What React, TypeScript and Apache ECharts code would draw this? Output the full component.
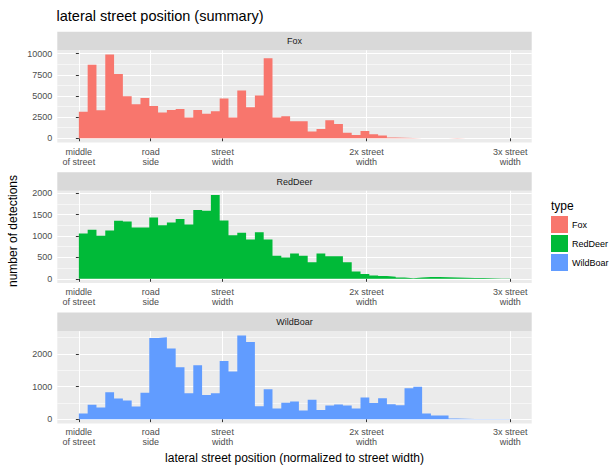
import React, { useEffect, useRef } from "react";
import * as echarts from "echarts";

// Facets / fill groups
const species = ["Fox", "RedDeer", "WildBoar"];
const speciesColors = ["#F8766D", "#00BA38", "#619CFF"];

// Detection counts per histogram bin (49 equal bins from 0 to 3 street widths)
const foxCounts = [
  3150, 8700, 3300, 9900, 7600, 4980, 4030, 4750, 3830, 3050,
  3350, 3450, 2450, 3350, 2900, 3200, 4700, 2450, 5650, 3680,
  5060, 9450, 2450, 2600, 2020, 2020, 790, 1100, 2130, 1700,
  670, 400, 870, 470, 320, 100, 70, 30, 20, 15,
  10, 10, 30, 10, 0, 0, 0, 0, 0,
];
const redDeerCounts = [
  1060, 1150, 1005, 1130, 1360, 1340, 1200, 1200, 1435, 1255,
  1315, 1400, 1270, 1610, 1590, 1960, 1365, 1020, 1075, 920,
  1090, 920, 540, 500, 590, 540, 390, 590, 525, 525,
  390, 170, 110, 80, 63, 47, 30, 15, 30, 45,
  40, 35, 30, 25, 20, 20, 15, 10, 5,
];
const wildBoarCounts = [
  175, 440, 360, 830, 635, 570, 390, 815, 2490, 2510,
  2165, 1590, 795, 1655, 745, 795, 1785, 1460, 2570, 2365,
  400, 920, 330, 505, 540, 265, 600, 285, 420, 450,
  420, 330, 665, 500, 645, 460, 430, 950, 995, 178,
  110, 110, 20, 15, 10, 10, 10, 10, 5,
];
const allCounts = [foxCounts, redDeerCounts, wildBoarCounts];

// Histogram range (in street widths)
const histStart = 0;
const histEnd = 3;

// Axis breaks
const xTickValues = [0, 0.5, 1, 2, 3];
const xTickLabels = [
  "middle\nof street",
  "road\nside",
  "street\nwidth",
  "2x street\nwidth",
  "3x street\nwidth",
];
const foxYTicks = [0, 2500, 5000, 7500, 10000];
const redDeerYTicks = [0, 500, 1000, 1500, 2000];
const wildBoarYTicks = [0, 1000, 2000];
const allYTicks = [foxYTicks, redDeerYTicks, wildBoarYTicks];

const FONT = "'Liberation Sans', Arial, Helvetica, sans-serif";

// ggplot-style 5% expansion of a [lo, hi] range
function expand(lo: number, hi: number): [number, number] {
  const pad = (hi - lo) * 0.05;
  return [lo - pad, hi + pad];
}

// minor breaks halfway between major breaks, kept inside the limits
function minorBreaks(major: number[], lo: number, hi: number): number[] {
  const step = major[1] - major[0];
  const out: number[] = [];
  const first = major[0] - step / 2;
  if (first >= lo) out.push(first);
  for (let i = 0; i < major.length; i++) {
    const v = major[i] + step / 2;
    if (v <= hi) out.push(v);
  }
  return out;
}

export default function App() {
  const ref = useRef<HTMLDivElement>(null);

  useEffect(() => {
    if (!ref.current) return;
    const chart = echarts.init(ref.current, undefined, { renderer: "svg" });

    // panel geometry
    const panelLeft = 57.3;
    const panelWidth = 474.4;
    const panelHeight = 92.2;
    const panelTops = [50.3, 190.8, 331.2];
    const stripHeight = 18.6;
    const panelCenterX = panelLeft + panelWidth / 2;

    const nBins = foxCounts.length;
    const binWidth = (histEnd - histStart) / nBins;
    const [xMin, xMax] = expand(histStart, histEnd);

    const grids: any[] = [];
    const xAxes: any[] = [];
    const yAxes: any[] = [];
    const series: any[] = [];
    const graphics: any[] = [];

    species.forEach((name, i) => {
      const counts = allCounts[i];
      const [yMin, yMax] = expand(0, Math.max(...counts));
      const majors = allYTicks[i];
      const minors = minorBreaks(majors, yMin, yMax);

      grids.push({
        left: panelLeft,
        top: panelTops[i],
        width: panelWidth,
        height: panelHeight,
        show: true,
        backgroundColor: "#EBEBEB",
        borderWidth: 0,
        containLabel: false,
      });

      xAxes.push({
        type: "value",
        gridIndex: i,
        min: xMin,
        max: xMax,
        axisLine: { show: false },
        axisTick: {
          show: true,
          length: 3,
          customValues: xTickValues,
          lineStyle: { color: "#333333", width: 1 },
        },
        axisLabel: {
          show: true,
          customValues: xTickValues,
          formatter: (v: number) => {
            const k = xTickValues.findIndex((t) => Math.abs(t - v) < 1e-9);
            return k >= 0 ? xTickLabels[k] : "";
          },
          color: "#4D4D4D",
          fontSize: 9,
          lineHeight: 10,
          margin: 4,
          fontFamily: FONT,
          hideOverlap: false,
        },
        splitLine: { show: true, lineStyle: { color: "#FFFFFF", width: 1.1 } },
      });

      // major breaks with labels
      yAxes.push({
        type: "value",
        gridIndex: i,
        min: yMin,
        max: yMax,
        axisLine: { show: false },
        axisTick: {
          show: true,
          length: 3,
          customValues: majors,
          lineStyle: { color: "#333333", width: 1 },
        },
        axisLabel: {
          show: true,
          customValues: majors,
          formatter: (v: number) => String(Math.round(v)),
          color: "#4D4D4D",
          fontSize: 9,
          margin: 5,
          fontFamily: FONT,
        },
        splitLine: { show: true, lineStyle: { color: "#FFFFFF", width: 1.1 } },
      });
      // minor grid lines
      yAxes.push({
        type: "value",
        gridIndex: i,
        min: yMin,
        max: yMax,
        axisLine: { show: false },
        axisTick: { show: false, customValues: minors },
        axisLabel: { show: false },
        splitLine: { show: true, lineStyle: { color: "#FFFFFF", width: 0.55 } },
      });

      // histogram as one stepped filled area: each bin's left edge carries its
      // count, and a closing point at the last bin's right edge
      const stepData = counts.map((c, k) => [histStart + k * binWidth, c]);
      stepData.push([histStart + nBins * binWidth, counts[nBins - 1]]);

      series.push({
        type: "line",
        name,
        xAxisIndex: i,
        yAxisIndex: 2 * i,
        step: "end",
        showSymbol: false,
        symbol: "none",
        silent: true,
        itemStyle: { color: speciesColors[i] },
        lineStyle: { width: 0, color: speciesColors[i] },
        areaStyle: { color: speciesColors[i], opacity: 1, origin: 0 },
        data: stepData,
        z: 3,
      });

      // facet strip
      graphics.push({
        type: "rect",
        shape: {
          x: panelLeft,
          y: panelTops[i] - stripHeight,
          width: panelWidth,
          height: stripHeight,
        },
        style: { fill: "#D9D9D9" },
        silent: true,
      });
      graphics.push({
        type: "text",
        x: panelCenterX,
        y: panelTops[i] - stripHeight / 2,
        style: {
          text: name,
          fill: "#1A1A1A",
          fontSize: 9,
          fontFamily: FONT,
          align: "center",
          verticalAlign: "middle",
        },
        silent: true,
      });
    });

    // axis titles
    graphics.push({
      type: "text",
      x: panelCenterX,
      y: 457.5,
      style: {
        text: "lateral street position (normalized to street width)",
        fill: "#000000",
        fontSize: 12,
        fontFamily: FONT,
        align: "center",
        verticalAlign: "middle",
      },
      silent: true,
    });
    graphics.push({
      type: "text",
      x: 13,
      y: 231,
      rotation: Math.PI / 2,
      style: {
        text: "number of detections",
        fill: "#000000",
        fontSize: 12,
        fontFamily: FONT,
        align: "center",
        verticalAlign: "middle",
      },
      silent: true,
    });
    // legend title
    graphics.push({
      type: "text",
      x: 551,
      y: 206,
      style: {
        text: "type",
        fill: "#000000",
        fontSize: 12,
        fontFamily: FONT,
        align: "left",
        verticalAlign: "middle",
      },
      silent: true,
    });

    chart.setOption({
      animation: false,
      backgroundColor: "#FFFFFF",
      textStyle: { fontFamily: FONT },
      title: {
        text: "lateral street position (summary)",
        left: 56.5,
        top: 8,
        padding: 0,
        textStyle: {
          fontSize: 14.5,
          fontWeight: "normal",
          color: "#000000",
          fontFamily: FONT,
        },
      },
      legend: {
        data: species.map((n) => ({ name: n, icon: "rect" })),
        orient: "vertical",
        left: 551,
        top: 216,
        padding: 0,
        itemWidth: 17,
        itemHeight: 17,
        itemGap: 2,
        icon: "rect",
        selectedMode: false,
        itemStyle: { borderWidth: 0 },
        lineStyle: { width: 0 },
        textStyle: { fontSize: 9, color: "#000000", fontFamily: FONT, padding: [0, 0, 0, -1] },
      },
      grid: grids,
      xAxis: xAxes,
      yAxis: yAxes,
      series,
      graphic: graphics,
    });

    return () => chart.dispose();
  }, []);

  return (
    <div
      ref={ref}
      style={{ position: "absolute", left: 0, top: 0, width: 610, height: 466 }}
    />
  );
}
